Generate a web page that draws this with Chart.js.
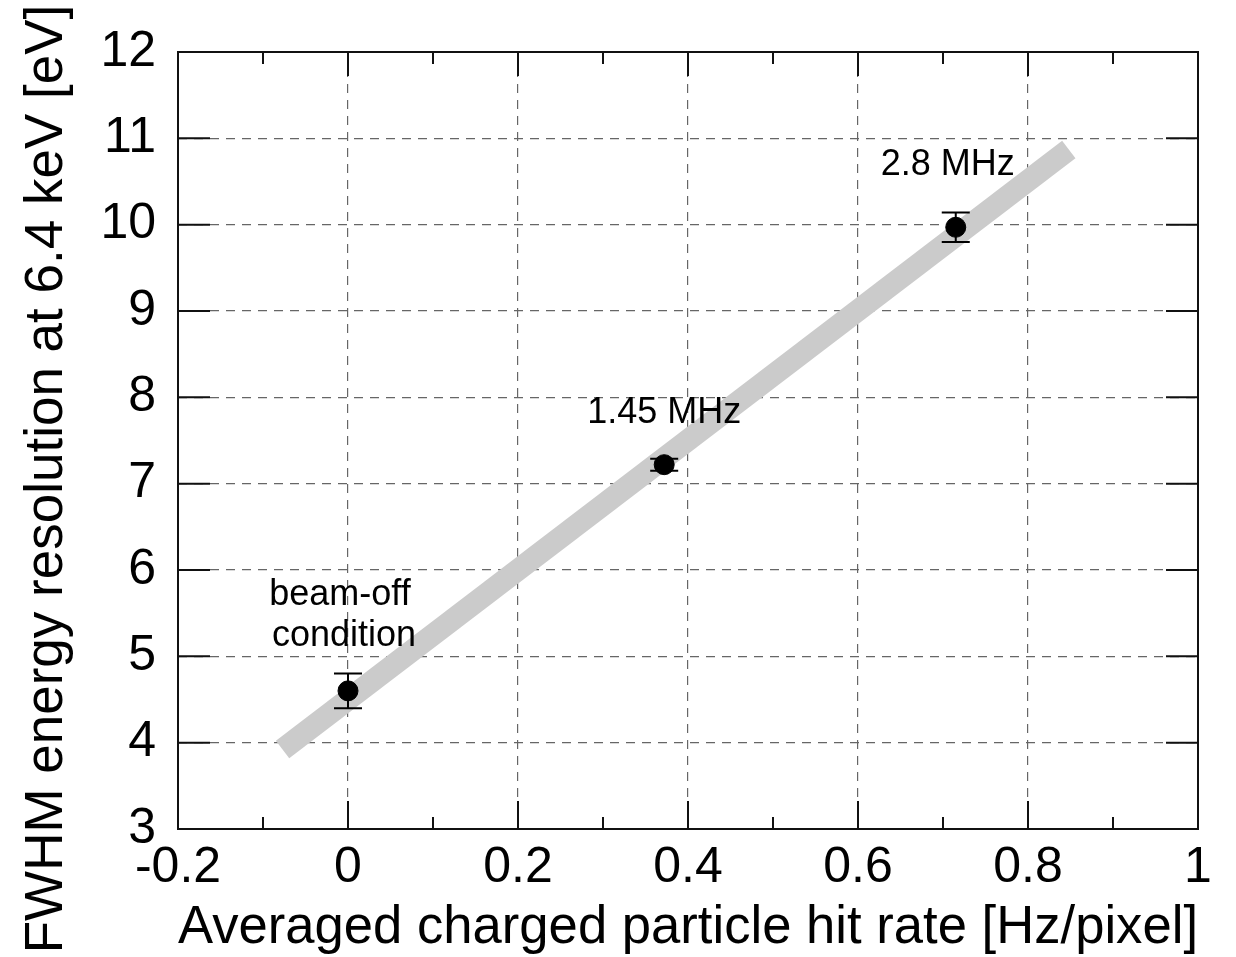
<!DOCTYPE html>
<html><head><meta charset="utf-8">
<script src="https://cdn.jsdelivr.net/npm/chart.js@4.4.1/dist/chart.umd.min.js"></script>
<style>html,body{margin:0;padding:0;background:#fff;} canvas{display:block;}</style>
</head><body>
<canvas id="c" width="1236" height="957"></canvas>
<script>
// ---- data ----
const hitRate = [0, 0.372, 0.715];
const fwhm = [4.60, 7.22, 9.97];
const fwhmErr = [0.20, 0.07, 0.17];
const pointLabels = [["beam-off", "condition"], ["1.45 MHz"], ["2.8 MHz"]];
const trendX = [-0.077, 0.848];
const trendY = [3.92, 10.87];
const xTitle = "Averaged charged particle hit rate [Hz/pixel]";
const yTitle = "FWHM energy resolution at 6.4 keV [eV]";

const FONT = "'Liberation Sans', Arial, Helvetica, sans-serif";
// label offsets (px) relative to each point: dx, dy, line height
const labelOffsets = [[-8, -96, 41], [0, -52, 0], [-8, -62, 0]];

const fmt = v => { const r = Math.round(v * 10) / 10; return r === 0 ? '0' : String(r); };

const deco = {
  id: 'deco',
  afterDatasetsDraw(chart) {
    const {ctx, chartArea: a, scales: {x, y}} = chart;
    ctx.save();
    // error bars
    ctx.strokeStyle = '#000'; ctx.lineWidth = 2;
    hitRate.forEach((v, i) => {
      const px = x.getPixelForValue(v);
      const t = y.getPixelForValue(fwhm[i] + fwhmErr[i]);
      const b = y.getPixelForValue(fwhm[i] - fwhmErr[i]);
      ctx.beginPath();
      ctx.moveTo(px, t); ctx.lineTo(px, b);
      ctx.moveTo(px - 14, t); ctx.lineTo(px + 14, t);
      ctx.moveTo(px - 14, b); ctx.lineTo(px + 14, b);
      ctx.stroke();
    });
    // labels
    ctx.fillStyle = '#000';
    ctx.font = '36px ' + FONT;
    ctx.textAlign = 'center'; ctx.textBaseline = 'middle';
    hitRate.forEach((v, i) => {
      const px = x.getPixelForValue(v), py = y.getPixelForValue(fwhm[i]);
      const [dx, dy, lh] = labelOffsets[i];
      pointLabels[i].forEach((s, k) => ctx.fillText(s, px + dx + (k ? 4 : 0), py + dy + k * lh));
    });
    // y axis title (rotated)
    ctx.save();
    ctx.translate(47, 479);
    ctx.rotate(-Math.PI / 2);
    ctx.font = '53px ' + FONT;
    ctx.fillText(yTitle, 0, 0);
    ctx.restore();
    // frame
    ctx.strokeStyle = '#111'; ctx.lineWidth = 2;
    ctx.strokeRect(a.left, a.top, a.right - a.left, a.bottom - a.top);
    // y major ticks left/right
    ctx.beginPath();
    y.ticks.forEach(t => {
      const py = y.getPixelForValue(t.value);
      ctx.moveTo(a.left, py); ctx.lineTo(a.left + 32, py);
      ctx.moveTo(a.right, py); ctx.lineTo(a.right - 32, py);
    });
    // x major + minor ticks
    x.ticks.forEach(t => {
      const px = x.getPixelForValue(t.value);
      ctx.moveTo(px, a.bottom); ctx.lineTo(px, a.bottom - 28);
      ctx.moveTo(px, a.top); ctx.lineTo(px, a.top + 24);
    });
    for (let k = 0; k < x.ticks.length - 1; k++) {
      const px = x.getPixelForValue((x.ticks[k].value + x.ticks[k + 1].value) / 2);
      ctx.moveTo(px, a.bottom); ctx.lineTo(px, a.bottom - 12);
      ctx.moveTo(px, a.top); ctx.lineTo(px, a.top + 12);
    }
    ctx.stroke();
    ctx.restore();
  }
};

new Chart(document.getElementById('c'), {
  type: 'scatter',
  data: {
    datasets: [
      {
        data: hitRate.map((v, i) => ({x: v, y: fwhm[i]})),
        pointRadius: 10, pointBackgroundColor: '#000', pointBorderColor: '#000',
        showLine: false, order: 0
      },
      {
        type: 'line',
        data: trendX.map((v, i) => ({x: v, y: trendY[i]})),
        borderColor: '#cbcbcb', borderWidth: 22, borderCapStyle: 'butt',
        pointRadius: 0, showLine: true, fill: false, order: 1
      }
    ]
  },
  options: {
    responsive: false,
    animation: false,
    layout: {padding: {left: 0, top: 49, right: 38, bottom: 0}},
    plugins: {legend: {display: false}, tooltip: {enabled: false}},
    scales: {
      x: {
        type: 'linear', min: -0.2, max: 1,
        ticks: {stepSize: 0.2, color: '#000', font: {family: FONT, size: 50}, padding: 9, maxRotation: 0, callback: fmt},
        grid: {color: '#666', lineWidth: 1.2, drawTicks: false},
        border: {display: false, dash: [9, 7]},
        title: {display: true, text: xTitle, color: '#000', font: {family: FONT, size: 53.5, lineHeight: 1}, padding: {top: 0, bottom: 2}},
        afterFit: s => { s.height = 128; }
      },
      y: {
        type: 'linear', min: 3, max: 12,
        ticks: {stepSize: 1, color: '#000', font: {family: FONT, size: 50}, padding: 22},
        grid: {color: '#666', lineWidth: 1.2, drawTicks: false},
        border: {display: false, dash: [9, 7]},
        title: {display: false},
        afterFit: s => { s.width = 178; }
      }
    }
  },
  plugins: [deco]
});
</script>
</body></html>
